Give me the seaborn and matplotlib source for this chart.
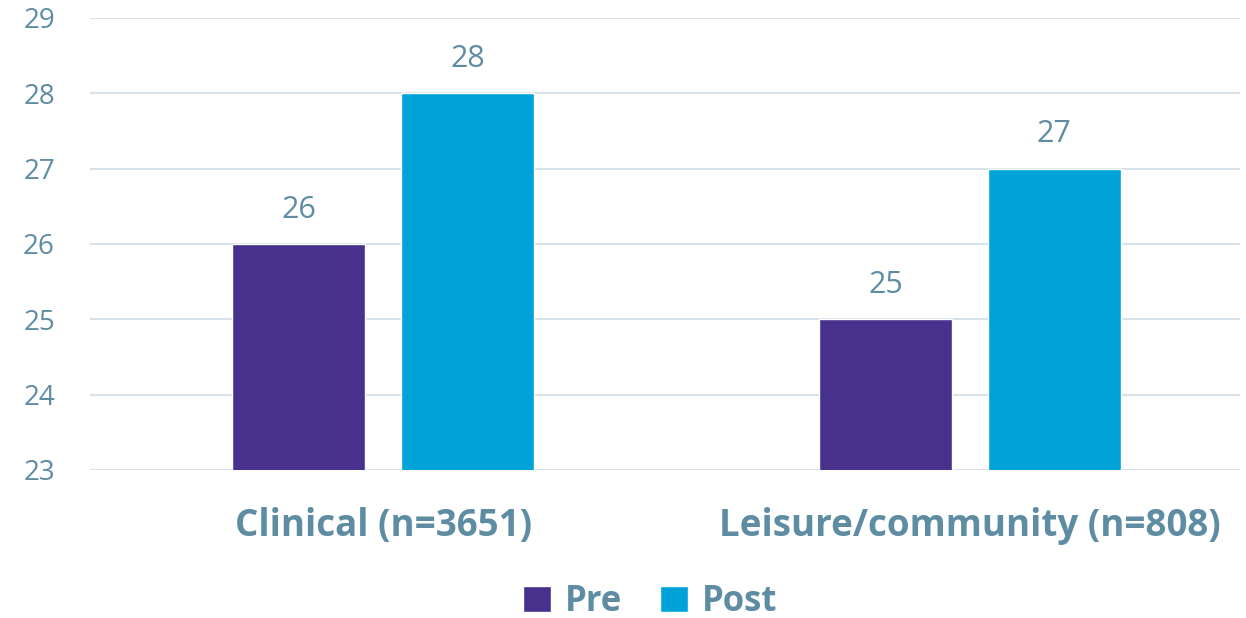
import matplotlib
matplotlib.use("Agg")
import matplotlib.pyplot as plt
import seaborn as sns
import pandas as pd

# Data
categories = ["Clinical (n=3651)", "Leisure/community (n=808)"]
pre_values = [26, 25]
post_values = [28, 27]
series_names = ["Pre", "Post"]
y_ticks = [23, 24, 25, 26, 27, 28, 29]

df = pd.DataFrame({
    "group": categories * 2,
    "phase": [series_names[0]] * 2 + [series_names[1]] * 2,
    "score": pre_values + post_values,
})

sns.set_theme(style="white")
plt.rcParams["font.family"] = ["Open Sans", "DejaVu Sans"]

text_color = "#5E8CA3"
palette = {"Pre": "#48308D", "Post": "#00A2DA"}

fig = plt.figure(figsize=(12.46, 6.18), dpi=100)
ax = fig.add_axes([0.072, 0.2395, 0.923, 0.7315])

sns.barplot(data=df, x="group", y="score", hue="phase", hue_order=series_names,
            palette=palette, width=0.575, gap=0.21, ax=ax, saturation=1,
            legend=True)

ax.set_ylim(23, 29)
ax.set_yticks(y_ticks)
ax.set_xlim(-0.5, 1.46)
ax.yaxis.grid(True, color="#D8E2EA", linewidth=1.5)
ax.set_axisbelow(True)
for s in ax.spines.values():
    s.set_visible(False)

ax.set_xlabel("")
ax.set_ylabel("")
ax.tick_params(axis="y", length=0, pad=25, labelsize=20, labelcolor=text_color)
ax.tick_params(axis="x", length=0, pad=27, labelsize=26.5, labelcolor=text_color)
for lbl in ax.get_xticklabels():
    lbl.set_fontweight("bold")

for container in ax.containers:
    ax.bar_label(container, fmt="%d", padding=14, fontsize=22, color=text_color)

handles, labels = ax.get_legend_handles_labels()
ax.legend_.remove()
fig.legend(handles, labels, loc="center", bbox_to_anchor=(0.522, 0.026),
           ncol=2, frameon=False, handlelength=0.8, handleheight=0.8,
           handletextpad=0.4, columnspacing=1.1,
           prop={"size": 25, "weight": "bold"}, labelcolor=text_color)

fig.savefig("out.png", dpi=100)
